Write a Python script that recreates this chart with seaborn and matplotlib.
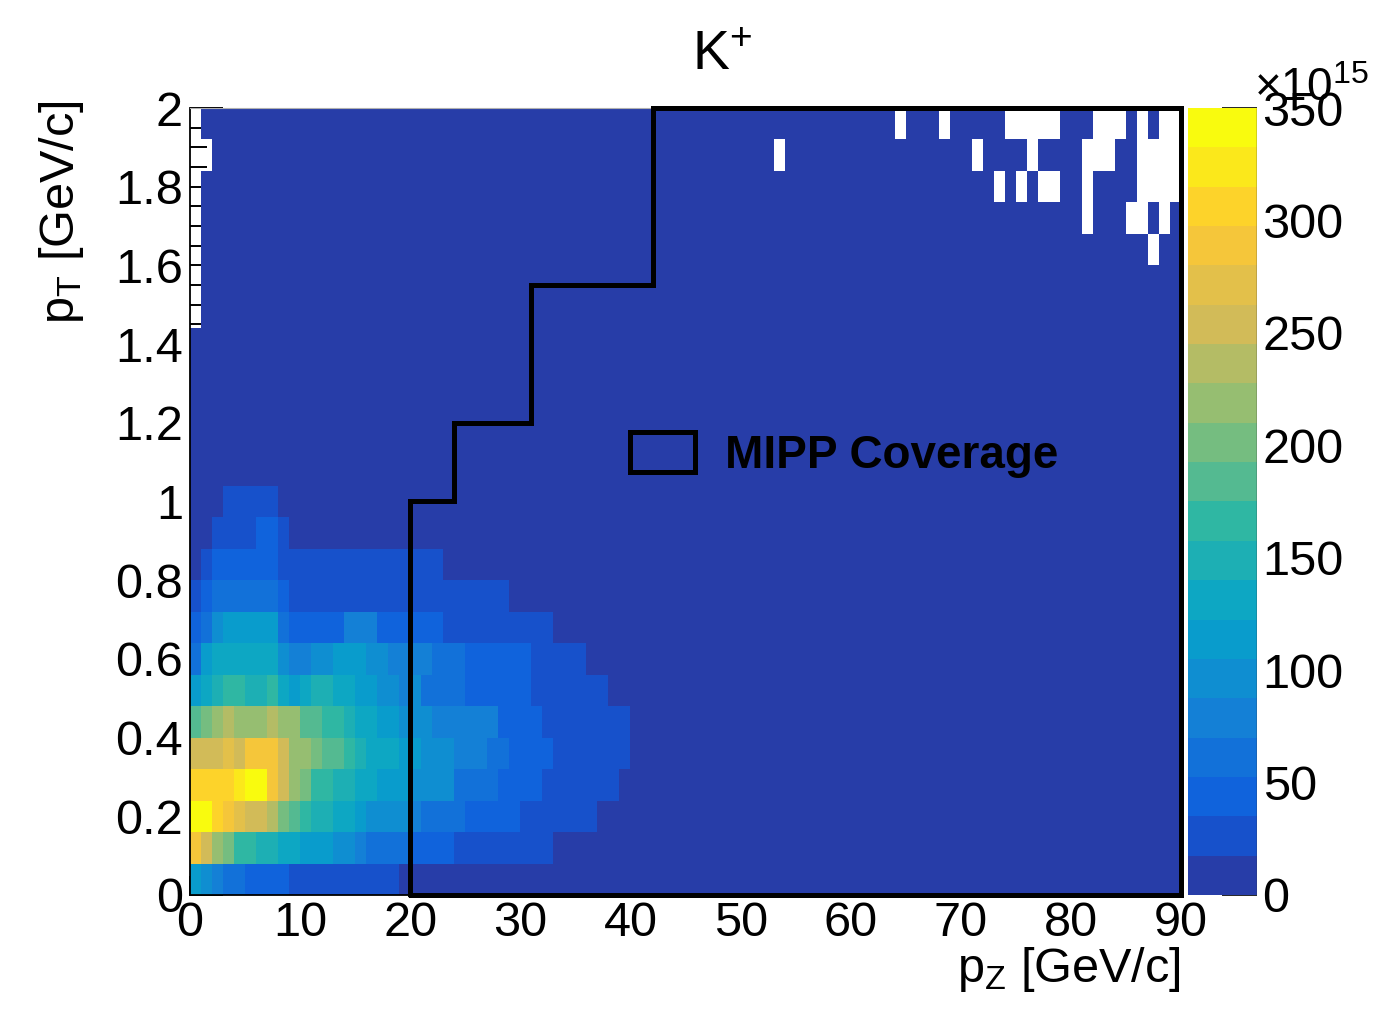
import numpy as np
import matplotlib
matplotlib.use("Agg")
import matplotlib.pyplot as plt
import seaborn as sns
from matplotlib.colors import LinearSegmentedColormap, ListedColormap
from matplotlib.patches import Patch
from matplotlib.ticker import FixedLocator, FixedFormatter

# binning of the K+ histogram: 90 bins of 1 GeV/c in pz, 25 bins of 0.08 GeV/c in pT
PZ_BIN = 1.0
PT_BIN = 0.08
BAND = 17.5          # width of one colour band (x1e15), 20 bands from 0 to 350
LEVEL_CHARS = "0123456789abcdefghij"

# colour band of every bin ('.' = empty bin, drawn white)
# one string per pT bin, bottom row first; each group is 10 pz bins
PT_ROWS = [
    "6543322221 1111111110 0000000000 0000000000 0000000000 0000000000 0000000000 0000000000 0000000000",
    "gecb998877 6665543333 2222111111 1110000000 0000000000 0000000000 0000000000 0000000000 0000000000",
    "jjhgfeedba 9887765555 4333322222 1111111000 0000000000 0000000000 0000000000 0000000000 0000000000",
    "hhhhijjgec b998877666 5555333322 2211111110 0000000000 0000000000 0000000000 0000000000 0000000000",
    "eeefegggec cbaa987776 6555444332 2221111111 0000000000 0000000000 0000000000 0000000000 0000000000",
    "abcdcccdcc aa99877665 5544444422 2211111111 0000000000 0000000000 0000000000 0000000000 0000000000",
    "6789988976 7887766554 5333322222 2111111100 0000000000 0000000000 0000000000 0000000000 0000000000",
    "3677777754 4556665544 4433322222 2111110000 0000000000 0000000000 0000000000 0000000000 0000000000",
    "2356666632 2222444222 2221111111 1110000000 0000000000 0000000000 0000000000 0000000000 0000000000",
    "1233333321 1111111111 1111111110 0000000000 0000000000 0000000000 0000000000 0000000000 0000000000",
    "0122222211 1111111111 1110000000 0000000000 0000000000 0000000000 0000000000 0000000000 0000000000",
    "0011112210 0000000000 0000000000 0000000000 0000000000 0000000000 0000000000 0000000000 0000000000",
    "0001111100 0000000000 0000000000 0000000000 0000000000 0000000000 0000000000 0000000000 0000000000",
    "0000000000 0000000000 0000000000 0000000000 0000000000 0000000000 0000000000 0000000000 0000000000",
    "0000000000 0000000000 0000000000 0000000000 0000000000 0000000000 0000000000 0000000000 0000000000",
    "0000000000 0000000000 0000000000 0000000000 0000000000 0000000000 0000000000 0000000000 0000000000",
    "0000000000 0000000000 0000000000 0000000000 0000000000 0000000000 0000000000 0000000000 0000000000",
    "0000000000 0000000000 0000000000 0000000000 0000000000 0000000000 0000000000 0000000000 0000000000",
    ".000000000 0000000000 0000000000 0000000000 0000000000 0000000000 0000000000 0000000000 0000000000",
    ".000000000 0000000000 0000000000 0000000000 0000000000 0000000000 0000000000 0000000000 0000000000",
    ".000000000 0000000000 0000000000 0000000000 0000000000 0000000000 0000000000 0000000000 0000000.00",
    ".000000000 0000000000 0000000000 0000000000 0000000000 0000000000 0000000000 0000000000 0.000..0.0",
    ".000000000 0000000000 0000000000 0000000000 0000000000 0000000000 0000000000 000.0.0..0 0.0000....",
    "..00000000 0000000000 0000000000 0000000000 0000000000 000.000000 0000000000 0.0000.000 0...00....",
    ".000000000 0000000000 0000000000 0000000000 0000000000 0000000000 0000.000.0 0000.....0 00...0.0..",
]

# MIPP coverage outline
COV_PZ = [20, 20, 24, 24, 31, 31, 42, 42, 90, 90, 20]
COV_PT = [0, 1.0, 1.0, 1.2, 1.2, 1.55, 1.55, 2.0, 2.0, 0, 0]

PZ_TICKS = [0, 10, 20, 30, 40, 50, 60, 70, 80, 90]
PT_TICKS = [0, 0.2, 0.4, 0.6, 0.8, 1.0, 1.2, 1.4, 1.6, 1.8, 2.0]
PT_TICK_LABELS = ["0", "0.2", "0.4", "0.6", "0.8", "1", "1.2", "1.4", "1.6", "1.8", "2"]
Z_TICKS = [0, 50, 100, 150, 200, 250, 300, 350]

# decode the grid into bin contents (units of 1e15)
grid = []
for row in PT_ROWS:
    cells = row.replace(" ", "")
    assert len(cells) == 90, len(cells)
    grid.append([np.nan if ch == "." else (LEVEL_CHARS.index(ch) + 0.5) * BAND for ch in cells])
values = np.array(grid)

# ROOT kBird palette, 20 contour colours
stops = [0.0, 0.125, 0.25, 0.375, 0.5, 0.625, 0.75, 0.875, 1.0]
red = [0.2082, 0.0592, 0.0780, 0.0232, 0.1802, 0.5301, 0.8186, 0.9956, 0.9764]
green = [0.1664, 0.3599, 0.5041, 0.6419, 0.7178, 0.7492, 0.7328, 0.7862, 0.9832]
blue = [0.5293, 0.8684, 0.8385, 0.7914, 0.6425, 0.4662, 0.3499, 0.1968, 0.0539]
bird = LinearSegmentedColormap.from_list("bird", list(zip(stops, zip(red, green, blue))))
cmap = ListedColormap([bird(int((i + 0.99) * 255 / 20) / 254) for i in range(20)])

sns.set_style("ticks")
plt.rcParams["font.family"] = ["Liberation Sans", "DejaVu Sans"]
plt.rcParams["mathtext.fontset"] = "custom"
plt.rcParams["mathtext.rm"] = "Liberation Sans"
plt.rcParams["mathtext.it"] = "Liberation Sans"
plt.rcParams["mathtext.default"] = "rm"
for key in ("text.color", "axes.labelcolor", "xtick.color", "ytick.color"):
    plt.rcParams[key] = "black"

fig = plt.figure(figsize=(13.78, 10.16), dpi=100)
ax = fig.add_axes([0.1379, 0.1191, 0.7192, 0.7746])
cax = fig.add_axes([0.8621, 0.1191, 0.0501, 0.7746])

sns.heatmap(values, ax=ax, cmap=cmap, vmin=0, vmax=350, mask=np.isnan(values),
            cbar=True, cbar_ax=cax, xticklabels=False, yticklabels=False)
ax.invert_yaxis()
ax.set_xlim(0, values.shape[1])
ax.set_ylim(0, values.shape[0])

for side, sp in ax.spines.items():
    sp.set_visible(True)
    sp.set_color("black" if side in ("left", "bottom") else "#b0b0b0")
    sp.set_linewidth(1.3 if side in ("left", "bottom") else 0.8)

# ticks in data units converted to bin positions
ax.xaxis.set_major_locator(FixedLocator([v / PZ_BIN for v in PZ_TICKS]))
ax.xaxis.set_major_formatter(FixedFormatter([str(v) for v in PZ_TICKS]))
ax.xaxis.set_minor_locator(FixedLocator(np.arange(0, 91, 2) / PZ_BIN))
ax.yaxis.set_major_locator(FixedLocator([v / PT_BIN for v in PT_TICKS]))
ax.yaxis.set_major_formatter(FixedFormatter(PT_TICK_LABELS))
ax.yaxis.set_minor_locator(FixedLocator(np.arange(0, 41) * 0.05 / PT_BIN))
ax.tick_params(axis="x", which="major", direction="in", length=14, width=1.4,
               labelsize=35, pad=4, bottom=True, top=False, labelrotation=0)
ax.tick_params(axis="x", which="minor", direction="in", length=7, width=1.4, bottom=True, top=False)
ax.tick_params(axis="y", which="major", direction="in", length=24, width=1.4,
               labelsize=35, pad=5, left=True, right=False, labelrotation=0)
ax.tick_params(axis="y", which="minor", direction="in", length=12, width=1.4, left=True, right=False)

# coverage region
ax.plot([p / PZ_BIN for p in COV_PZ], [p / PT_BIN for p in COV_PT], color="black",
        lw=3.6, solid_joinstyle="miter", clip_on=False, zorder=5)
handles = [Patch(facecolor="none", edgecolor="black", linewidth=3.6, label="MIPP Coverage")]
ax.legend(handles=handles, loc="center left", bbox_to_anchor=(630 / 1378, 1 - 455 / 1016),
          bbox_transform=fig.transFigure, frameon=False, prop={"weight": "bold", "size": 33},
          handlelength=1.42, handleheight=0.96, handletextpad=0.65, borderpad=0, borderaxespad=0)

ax.set_xlabel("p$_{Z}$ [GeV/c]", fontsize=35, loc="right")
ax.xaxis.set_label_coords(1.0, -0.063)
ax.set_ylabel("p$_{T}$ [GeV/c]", fontsize=35, loc="top")
ax.yaxis.set_label_coords(-0.105, 1.01)

fig.text(692 / 1378, 1 - 70 / 1016, "K$^{+}$", ha="left", va="baseline", fontsize=40)

# colour scale
cbar = ax.collections[0].colorbar
cbar.set_ticks(Z_TICKS)
cbar.set_ticklabels([str(v) for v in Z_TICKS])
cbar.outline.set_visible(False)
cax.yaxis.set_ticks_position("right")
cax.tick_params(which="major", direction="in", length=25, width=1.2, labelsize=35, pad=4)
cax.tick_params(which="minor", length=0)
cax.axvline(1.0, color="#333333", lw=1.0)
fig.text(1254 / 1378, 1 - 101 / 1016, "\u00d710$^{15}$", ha="left", va="baseline", fontsize=33)

fig.savefig("out.png", dpi=100)
